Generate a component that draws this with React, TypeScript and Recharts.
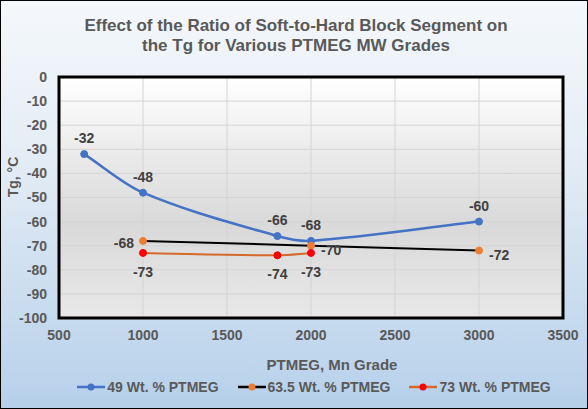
import React from "react";
import { LineChart, Line, XAxis, YAxis, CartesianGrid, ReferenceArea, Legend, LabelList } from "recharts";

const mw49 = [650, 1000, 1800, 2000, 3000];
const tg49 = [-32, -48, -66, -68, -60];
const mw635 = [1000, 2000, 3000];
const tg635 = [-68, -70, -72];
const mw73 = [1000, 1800, 2000];
const tg73 = [-73, -74, -73];
const xTicks = [500, 1000, 1500, 2000, 2500, 3000, 3500];
const yTicks = [0, -10, -20, -30, -40, -50, -60, -70, -80, -90, -100];

const FONT = '"Liberation Sans", Arial, sans-serif';
const GREY = "#595959";

// smoothed line like excel: hermite segments, slope from neighbours, handles kept inside the segment
function excelSmooth(context: any) {
  let pts: number[][] = [];
  return {
    areaStart() {},
    areaEnd() {},
    lineStart() { pts = []; },
    point(x: number, y: number) { pts.push([+x, +y]); },
    lineEnd() {
      const n = pts.length;
      if (!n) return;
      const slope = (i: number) => {
        const a = pts[Math.max(i - 1, 0)], b = pts[Math.min(i + 1, n - 1)];
        return b[0] === a[0] ? 0 : (b[1] - a[1]) / (b[0] - a[0]);
      };
      context.moveTo(pts[0][0], pts[0][1]);
      for (let i = 0; i < n - 1; i++) {
        const p1 = pts[i], p2 = pts[i + 1];
        const h = (p2[0] - p1[0]) / 3;
        context.bezierCurveTo(p1[0] + h, p1[1] + slope(i) * h, p2[0] - h, p2[1] - slope(i + 1) * h, p2[0], p2[1]);
      }
    },
  };
}

const toData = (xs: number[], ys: number[]) => xs.map((x, i) => ({ x, y: ys[i] }));

const series = [
  { name: "49 Wt. % PTMEG", data: toData(mw49, tg49), line: "#4472C4", marker: "#4472C4", width: 2.5, smooth: true, place: ["top", "top", "top", "top", "top"] },
  { name: "63.5 Wt. % PTMEG", data: toData(mw635, tg635), line: "#000000", marker: "#ED7D31", width: 2, smooth: false, place: ["left", "right", "right"] },
  { name: "73 Wt. % PTMEG", data: toData(mw73, tg73), line: "#D4692A", marker: "#FF0000", width: 2, smooth: true, place: ["bottom", "bottom", "bottom"] },
];

const makeLabel = (place: string[]) => (props: any) => {
  const vb = props.viewBox || {};
  const x = props.x ?? vb.x;
  const y = props.y ?? vb.y;
  if (x == null || y == null) return null;
  const p = place[props.index] || "top";
  let tx = x, ty = y, anchor = "middle";
  if (p === "top") ty = y - 16;
  if (p === "bottom") ty = y + 19;
  if (p === "left") { tx = x - 9; anchor = "end"; ty = y + 2; }
  if (p === "right") { tx = x + 10; anchor = "start"; ty = y + 4; }
  return (
    <text x={tx} y={ty} textAnchor={anchor} dominantBaseline="central" fill="#404040" fontSize={14} fontWeight={700} fontFamily={FONT}>
      {props.value}
    </text>
  );
};

const LegendContent = () => (
  <div style={{ display: "flex", justifyContent: "center", alignItems: "center", height: 20, fontFamily: FONT, fontSize: 14, fontWeight: 700, color: GREY }}>
    {series.map((s, i) => (
      <div key={s.name} style={{ display: "flex", alignItems: "center", marginLeft: i ? 19 : 0 }}>
        <svg width={28} height={10} style={{ marginRight: 2 }}>
          <line x1={0} y1={5} x2={28} y2={5} stroke={s.line} strokeWidth={2.5} />
          <circle cx={14} cy={5} r={3.5} fill={s.marker} />
        </svg>
        <span>{s.name}</span>
      </div>
    ))}
  </div>
);

export default function App() {
  return (
    <div style={{ position: "absolute", left: 0, top: 0, width: 588, height: 409, background: "linear-gradient(to bottom, #f5f8fb 0%, #e3ecf5 40%, #b6d0ea 100%)", boxShadow: "inset 0 0 0 1px #000" }}>
      <div style={{ position: "absolute", left: 4, top: 16, width: 584, textAlign: "center", fontFamily: FONT, fontSize: 17, fontWeight: 700, lineHeight: "20px", color: GREY }}>
        Effect of the Ratio of Soft-to-Hard Block Segment on
        <br />
        the Tg for Various PTMEG MW Grades
      </div>
      <div style={{ position: "absolute", left: 0, top: 0 }}>
        <LineChart width={588} height={409} margin={{ top: 77, right: 25, bottom: 12, left: 0 }}>
          <defs>
            <linearGradient id="plotFill" x1="0" y1="0" x2="0" y2="1">
              <stop offset="0%" stopColor="#ffffff" />
              <stop offset="60%" stopColor="#d9d9d9" />
              <stop offset="100%" stopColor="#e8e8e8" />
            </linearGradient>
          </defs>
          <CartesianGrid stroke="#d4d4d4" fill="url(#plotFill)" fillOpacity={1} />
          <XAxis
            type="number"
            dataKey="x"
            domain={[500, 3500]}
            ticks={xTicks}
            interval={0}
            axisLine={false}
            tickLine={false}
            tickSize={0}
            tickMargin={12}
            height={59}
            tick={{ fill: GREY, fontSize: 14, fontWeight: 700, fontFamily: FONT }}
            label={{
              content: () => (
                <text x={332} y={364} textAnchor="middle" dominantBaseline="central" fill={GREY} fontSize={15} fontWeight={700} fontFamily={FONT}>
                  PTMEG, Mn Grade
                </text>
              ),
            }}
          />
          <YAxis
            type="number"
            domain={[-100, 0]}
            ticks={yTicks}
            interval={0}
            axisLine={false}
            tickLine={false}
            tickSize={0}
            tickMargin={12}
            width={59}
            tick={{ fill: GREY, fontSize: 14, fontWeight: 700, fontFamily: FONT }}
            label={{
              content: () => (
                <text x={13} y={177} transform="rotate(-90, 13, 177)" textAnchor="middle" dominantBaseline="central" fill={GREY} fontSize={14} fontWeight={700} fontFamily={FONT}>
                  Tg, °C
                </text>
              ),
            }}
          />
          <ReferenceArea x1={500} x2={3500} y1={-100} y2={0} fill="none" stroke="#000" strokeWidth={3} ifOverflow="visible" />
          {series.map((s) => (
            <Line
              key={s.name}
              name={s.name}
              data={s.data}
              dataKey="y"
              type={s.smooth ? (excelSmooth as any) : "linear"}
              stroke={s.line}
              strokeWidth={s.width}
              dot={{ r: 3.5, fill: s.marker, stroke: s.marker, strokeWidth: 1 }}
              activeDot={false}
              isAnimationActive={false}
            >
              <LabelList dataKey="y" content={makeLabel(s.place)} />
            </Line>
          ))}
          <Legend verticalAlign="bottom" height={20} wrapperStyle={{ left: 40, width: 548 }} content={<LegendContent />} />
        </LineChart>
      </div>
    </div>
  );
}
